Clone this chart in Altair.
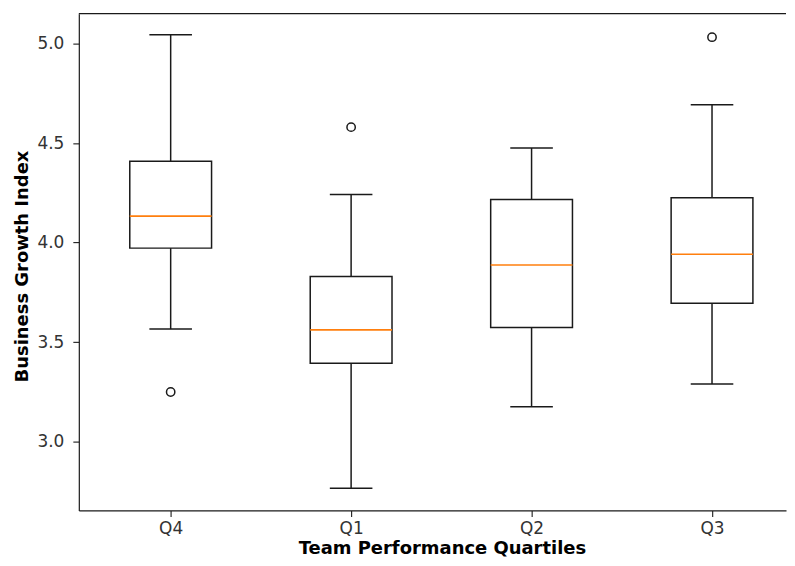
import json
import altair as alt
import pandas as pd

# ---- data ----
categories = ["Q4", "Q1", "Q2", "Q3"]
positions = [1, 2, 3, 4]
whisker_low = [3.565, 2.766, 3.175, 3.289]
box_q1 = [3.972, 3.394, 3.573, 3.695]
medians = [4.133, 3.561, 3.887, 3.941]
box_q3 = [4.408, 3.829, 4.216, 4.225]
whisker_high = [5.044, 4.242, 4.475, 4.693]

outlier_categories = ["Q4", "Q1", "Q3"]
outlier_values = [3.249, 4.580, 5.032]

y_ticks = [3.0, 3.5, 4.0, 4.5, 5.0]

# ---- layout / style ----
y_domain = [2.654, 5.150]
x_domain = [0.491, 4.410]
BOX_HALF = 0.2266
CAP_HALF = 0.118
PLOT_W = 709
PLOT_H = 498
FONT = "DejaVu Sans"
LINE = "#1a1a1a"

stats = pd.DataFrame({
    "category": categories,
    "pos": positions,
    "wlo": whisker_low,
    "q1": box_q1,
    "med": medians,
    "q3": box_q3,
    "whi": whisker_high,
})
pos_map = dict(zip(categories, positions))
outliers = pd.DataFrame({
    "category": outlier_categories,
    "pos": [pos_map[c] for c in outlier_categories],
    "value": outlier_values,
})

x_scale = alt.Scale(domain=x_domain, nice=False, zero=False)
y_scale = alt.Scale(domain=y_domain, nice=False, zero=False)

label_expr = json.dumps(categories) + "[datum.value - 1]"

x_axis = alt.Axis(
    values=positions, labelExpr=label_expr, title="Team Performance Quartiles",
    grid=False, tickSize=6, labelPadding=4, titlePadding=3, titleX=364,
)
y_axis = alt.Axis(
    values=y_ticks, format=".1f", title="Business Growth Index",
    grid=False, tickSize=6, labelPadding=9, titlePadding=5, titleY=253,
)


def X(field):
    return alt.X(field, type="quantitative", scale=x_scale, axis=x_axis)


def Y(field):
    return alt.Y(field, type="quantitative", scale=y_scale, axis=y_axis)


base = alt.Chart(stats).transform_calculate(
    box_lo=f"datum.pos - {BOX_HALF}",
    box_hi=f"datum.pos + {BOX_HALF}",
    cap_lo=f"datum.pos - {CAP_HALF}",
    cap_hi=f"datum.pos + {CAP_HALF}",
)

SW = 1.5
whisk_low = base.mark_rule(color=LINE, strokeWidth=SW).encode(
    x=X("pos"), y=Y("wlo"), y2="q1")
whisk_high = base.mark_rule(color=LINE, strokeWidth=SW).encode(
    x=X("pos"), y=Y("q3"), y2="whi")
cap_low = base.mark_rule(color=LINE, strokeWidth=SW).encode(
    x=X("cap_lo"), x2="cap_hi", y=Y("wlo"))
cap_high = base.mark_rule(color=LINE, strokeWidth=SW).encode(
    x=X("cap_lo"), x2="cap_hi", y=Y("whi"))
box = base.mark_rect(fill="white", stroke=LINE, strokeWidth=SW).encode(
    x=X("box_lo"), x2="box_hi", y=Y("q1"), y2="q3")
median = base.mark_rule(color="#ff7f0e", strokeWidth=1.6).encode(
    x=X("box_lo"), x2="box_hi", y=Y("med"))

outlier_pts = alt.Chart(outliers).mark_point(
    shape="circle", filled=False, stroke=LINE, strokeWidth=1.5, size=70, opacity=1
).encode(x=X("pos"), y=Y("value"))

top_border = alt.Chart(pd.DataFrame({"k": [0]})).mark_rule(
    color=LINE, strokeWidth=1.2
).encode(x=alt.value(0), x2=alt.value(PLOT_W), y=alt.value(0))

chart = alt.layer(
    whisk_low, whisk_high, cap_low, cap_high, box, median, outlier_pts, top_border
).properties(
    width=PLOT_W, height=PLOT_H,
    padding={"left": 5, "top": 4, "right": 0, "bottom": 0},
    background="white",
).configure_view(
    stroke=None
).configure_axis(
    labelFont=FONT, titleFont=FONT, labelFontSize=17, titleFontSize=18,
    labelColor="#333333", titleColor="#000000", titleFontWeight="bold",
    domainColor=LINE, domainWidth=1.2, tickColor=LINE, tickWidth=1.1,
)

chart.save("out.html", embed_options={"renderer": "svg", "actions": False})
